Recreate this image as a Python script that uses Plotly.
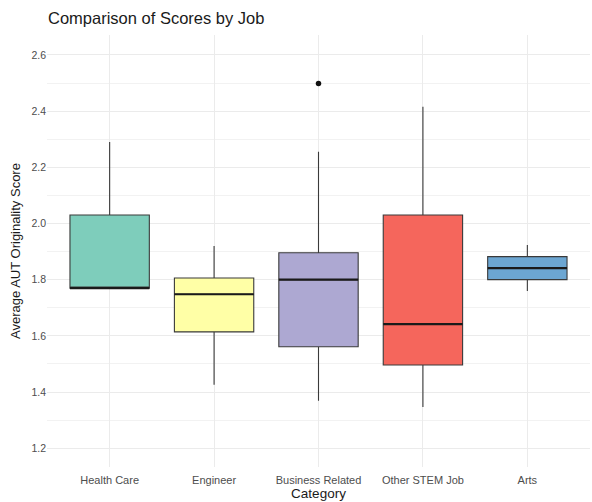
import plotly.graph_objects as go

# Box-plot summary statistics per job category
categories = ["Health Care", "Engineer", "Business Related", "Other STEM Job", "Arts"]
lower_whisker = [1.77, 1.426, 1.369, 1.347, 1.760]
q1 = [1.77, 1.614, 1.561, 1.496, 1.800]
median = [1.77, 1.748, 1.800, 1.642, 1.841]
q3 = [2.03, 1.806, 1.896, 2.030, 1.882]
upper_whisker = [2.29, 1.920, 2.255, 2.416, 1.923]
fill_colors = ["#7ECDBB", "#FFFFA6", "#ADA8D2", "#F5665C", "#6CA6D2"]

# Points beyond the whiskers
outlier_cat = ["Business Related"]
outlier_val = [2.498]

BOX_W = 0.76
font = "Liberation Sans, Arial, sans-serif"

fig = go.Figure()
for i, cat in enumerate(categories):
    fig.add_trace(go.Box(
        x=[cat],
        q1=[q1[i]], median=[median[i]], q3=[q3[i]],
        lowerfence=[lower_whisker[i]], upperfence=[upper_whisker[i]],
        fillcolor=fill_colors[i],
        line=dict(color="#3a3a3a", width=1.1),
        whiskerwidth=0,
        width=BOX_W,
        boxpoints=False,
        showlegend=False,
        hoverinfo="skip",
    ))

fig.add_trace(go.Scatter(
    x=outlier_cat, y=outlier_val, mode="markers",
    marker=dict(color="#111111", size=5.5),
    showlegend=False, hoverinfo="skip",
))

# Heavier median bars, as in ggplot
for i, m in enumerate(median):
    fig.add_shape(type="line", xref="x", yref="y",
                  x0=i - BOX_W / 2, x1=i + BOX_W / 2, y0=m, y1=m,
                  line=dict(color="#1a1a1a", width=2.2))

fig.update_layout(
    width=592, height=502,
    margin=dict(l=47, r=2, t=35, b=35),
    paper_bgcolor="white", plot_bgcolor="white",
    font=dict(family=font),
    title=dict(text="Comparison of Scores by Job", x=48 / 592, xref="container",
               xanchor="left", y=1 - 18 / 502, yref="container", yanchor="middle",
               font=dict(size=16.5, color="#1a1a1a")),
)

fig.update_xaxes(
    type="category", categoryorder="array", categoryarray=categories,
    range=[-0.6, 4.6],
    showgrid=True, gridcolor="#EBEBEB", gridwidth=1.1,
    zeroline=False, showline=False, ticks="",
    ticklabelstandoff=5,
    tickfont=dict(size=11, color="#4D4D4D"),
    title=dict(text="Category", font=dict(size=13.5, color="#1a1a1a"), standoff=1),
)
fig.update_yaxes(
    range=[1.133, 2.671],
    tick0=1.2, dtick=0.2, tickformat=".1f",
    showgrid=True, gridcolor="#EBEBEB", gridwidth=1.1,
    minor=dict(dtick=0.1, tick0=1.2, showgrid=True, gridcolor="#F2F2F2", gridwidth=0.8),
    zeroline=False, showline=False, ticks="",
    tickfont=dict(size=10.5, color="#4D4D4D"),
    title=dict(text="Average AUT Originality Score", font=dict(size=13, color="#1a1a1a"),
               standoff=7),
)

fig.write_html("out.html")
